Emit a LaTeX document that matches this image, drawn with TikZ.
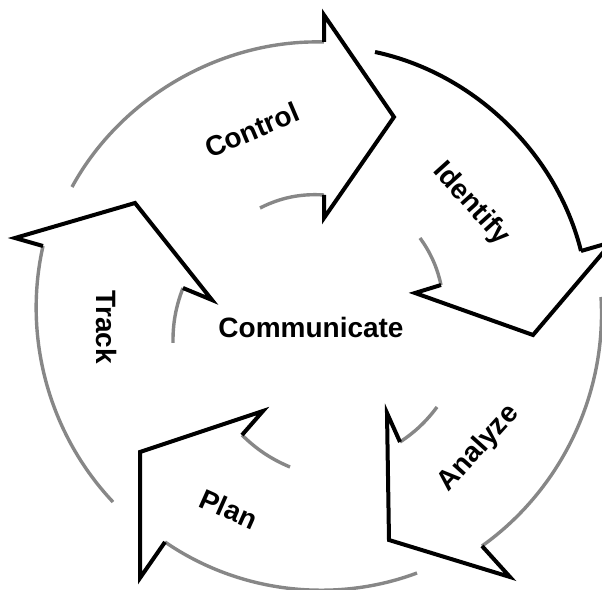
\documentclass[tikz,border=0pt]{standalone}
\usepackage{fontspec}
\setmainfont{Liberation Sans}
\definecolor{arcgray}{RGB}{135,135,135}
\tikzset{
  garc/.style={draw=arcgray, line width=3.4pt},
  barc/.style={draw=black, line width=4pt},
  headline/.style={draw=black, line width=4pt, line join=miter},
  arcto/.style={bend left=#1, looseness=0.9},
  lbl/.style={font=\fontsize{28}{32}\selectfont\bfseries, inner sep=0pt}
}
\begin{document}
\begin{tikzpicture}[x=1pt,y=1pt]
\useasboundingbox (0,0) rectangle (602,589);
\clip (0,0) rectangle (602,589);
% ---------- Control ----------
\coordinate (cOT) at (72,402);
\coordinate (cOH) at (324,547);
\coordinate (cOC) at (324,574);
\coordinate (cT)  at (394,472);
\coordinate (cIC) at (324,371);
\coordinate (cIH) at (324,394);
\coordinate (cIT) at (260,381);
\draw[garc] (cOT) to[arcto=31.5] (cOH);
\draw[garc] (cIT) to[arcto=15.4] (cIH);
\draw[headline] (cOH) -- (cOC) -- (cT) -- (cIC) -- (cIH);
% ---------- Identify ----------
\coordinate (iOT) at (375,537);
\coordinate (iOH) at (581,338);
\coordinate (iOC) at (612,347);
\coordinate (iT)  at (533,254);
\coordinate (iIC) at (415,296);
\coordinate (iIH) at (441,304);
\coordinate (iIT) at (420,351);
\draw[barc] (iOT) to[arcto=32] (iOH);
\draw[garc] (iIT) to[arcto=11.8] (iIH);
\draw[headline] (iOH) -- (iOC) -- (iT) -- (iIC) -- (iIH);
% ---------- Analyze ----------
\coordinate (aOT) at (601,292);
\coordinate (aOH) at (482,43);
\coordinate (aOC) at (510,12);
\coordinate (aT)  at (389,49);
\coordinate (aIC) at (387,176);
\coordinate (aIH) at (400,147);
\coordinate (aIT) at (437,182);
\draw[garc] (aOT) to[arcto=29] (aOH);
\draw[garc] (aIT) to[arcto=10] (aIH);
\draw[headline] (aOH) -- (aOC) -- (aT) -- (aIC) -- (aIH);
% ---------- Plan ----------
\coordinate (pOT) at (417,16);
\coordinate (pOH) at (165,47);
\coordinate (pOC) at (140,11);
\coordinate (pT)  at (140,137);
\coordinate (pIC) at (263,178);
\coordinate (pIH) at (242,154);
\coordinate (pIT) at (290,122);
\draw[garc] (pOT) to[arcto=27.5] (pOH);
\draw[garc] (pIT) to[arcto=11] (pIH);
\draw[headline] (pOH) -- (pOC) -- (pT) -- (pIC) -- (pIH);
% ---------- Track ----------
\coordinate (tOT) at (113,87);
\coordinate (tOH) at (43,343);
\coordinate (tOC) at (15,351);
\coordinate (tT)  at (135,386);
\coordinate (tIC) at (212,289);
\coordinate (tIH) at (183,301);
\coordinate (tIT) at (173,246);
\draw[garc] (tOT) to[arcto=28] (tOH);
\draw[garc] (tIT) to[arcto=11] (tIH);
\draw[headline] (tOH) -- (tOC) -- (tT) -- (tIC) -- (tIH);
% ---------- Labels ----------
\node[lbl] (comm) at (311,262) {Communicate};
\node[lbl, rotate=23] (ctl) at (252,459) {Control};
\node[lbl, rotate=-48] (idf) at (471,385) {Identify};
\node[lbl, rotate=48] (anl) at (479,140.5) {Analyze};
\node[lbl, rotate=-24] (pln) at (229,80) {Plan};
\node[lbl, rotate=-90] (trk) at (107,261.5) {Track};
\end{tikzpicture}
\end{document}
